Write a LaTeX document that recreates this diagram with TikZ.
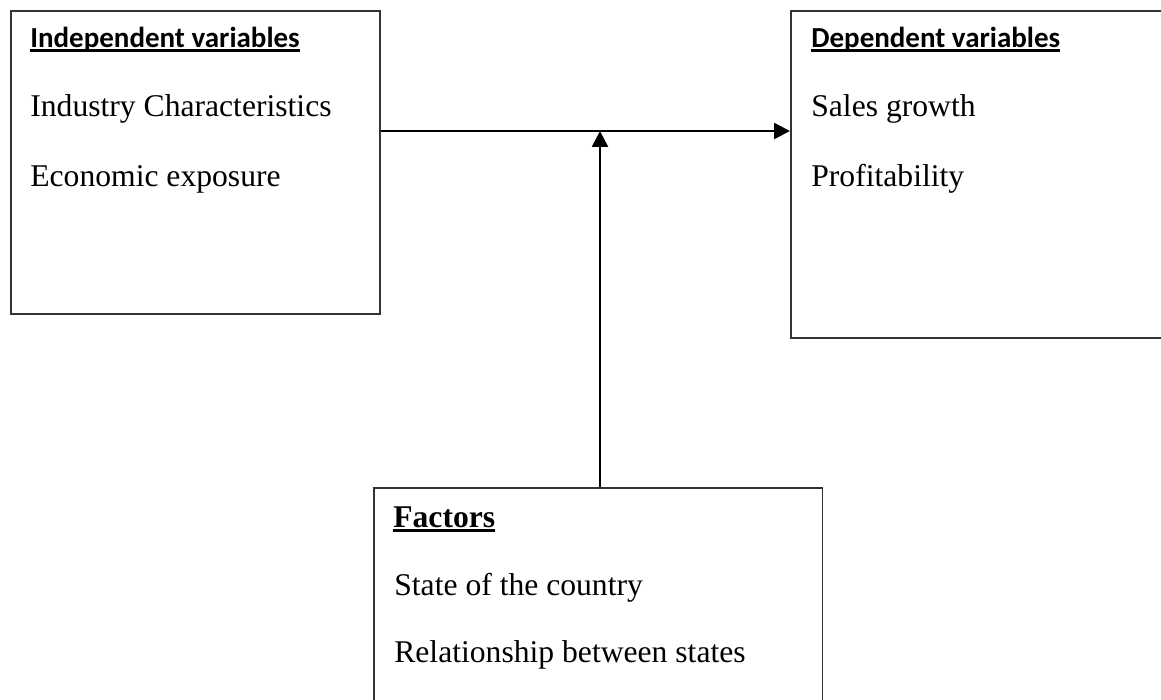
\documentclass[tikz,border=0pt]{standalone}
\usepackage{fontspec}
\setmainfont{Liberation Serif}
\newfontfamily\headfont{Carlito}
\usetikzlibrary{arrows.meta, positioning}

% thick underline as in the headings
\newcommand{\thickul}[1]{\setbox0=\hbox{#1}\leavevmode\rlap{\vrule width\wd0 height -1.1pt depth 3.1pt}\box0}

\begin{document}
\begin{tikzpicture}[x=0.02cm, y=-0.02cm, node distance=0pt,
      box/.style = {draw=black!80, line width=0.9pt, rectangle, anchor=north west, inner sep=0pt},
      head/.style = {font=\headfont\bfseries\fontsize{16.5}{20}\selectfont, anchor=base west, inner sep=0pt},
      item/.style = {font=\fontsize{18}{22}\selectfont, anchor=base west, inner sep=0pt},
      link/.style = {line width=1.4pt, -{Triangle[length=9pt,width=9pt]}} ]

\useasboundingbox (0,0) rectangle (1161,700);
\clip (0,0) rectangle (1161,700);

% the three boxes
\node (indep) [box, minimum width=7.38cm, minimum height=6.06cm] at (10,10) {};
\node (dep)   [box, minimum width=8cm,    minimum height=6.54cm] at (790,10) {};
\node (fact)  [box, minimum width=8.98cm, minimum height=5cm]    at (373,487) {};

% texts
\node (indephead) [head] at ([shift={(20,37)}]indep.north west) {\thickul{Independent variables}};
\node (indepa)    [item] at ([shift={(20,106)}]indep.north west) {Industry Characteristics};
\node (indepb)    [item] at ([shift={(20,176)}]indep.north west) {Economic exposure};

\node (dephead) [head] at ([shift={(21,37)}]dep.north west) {\thickul{Dependent variables}};
\node (depa)    [item] at ([shift={(21,106)}]dep.north west) {Sales growth};
\node (depb)    [item] at ([shift={(21,176)}]dep.north west) {Profitability};

\node (facthead) [item, font=\bfseries\fontsize{18}{22}\selectfont] at ([shift={(20,40)}]fact.north west) {\thickul{Factors}};
\node (facta)    [item] at ([shift={(21,108)}]fact.north west) {State of the country};
\node (factb)    [item] at ([shift={(21,175)}]fact.north west) {Relationship between states};

% connectors
\coordinate (join) at (600,131);
\draw[link] (indep.east |- join) -- (dep.west |- join);
\draw[link] (join |- fact.north) -- (join);
\end{tikzpicture}
\end{document}
